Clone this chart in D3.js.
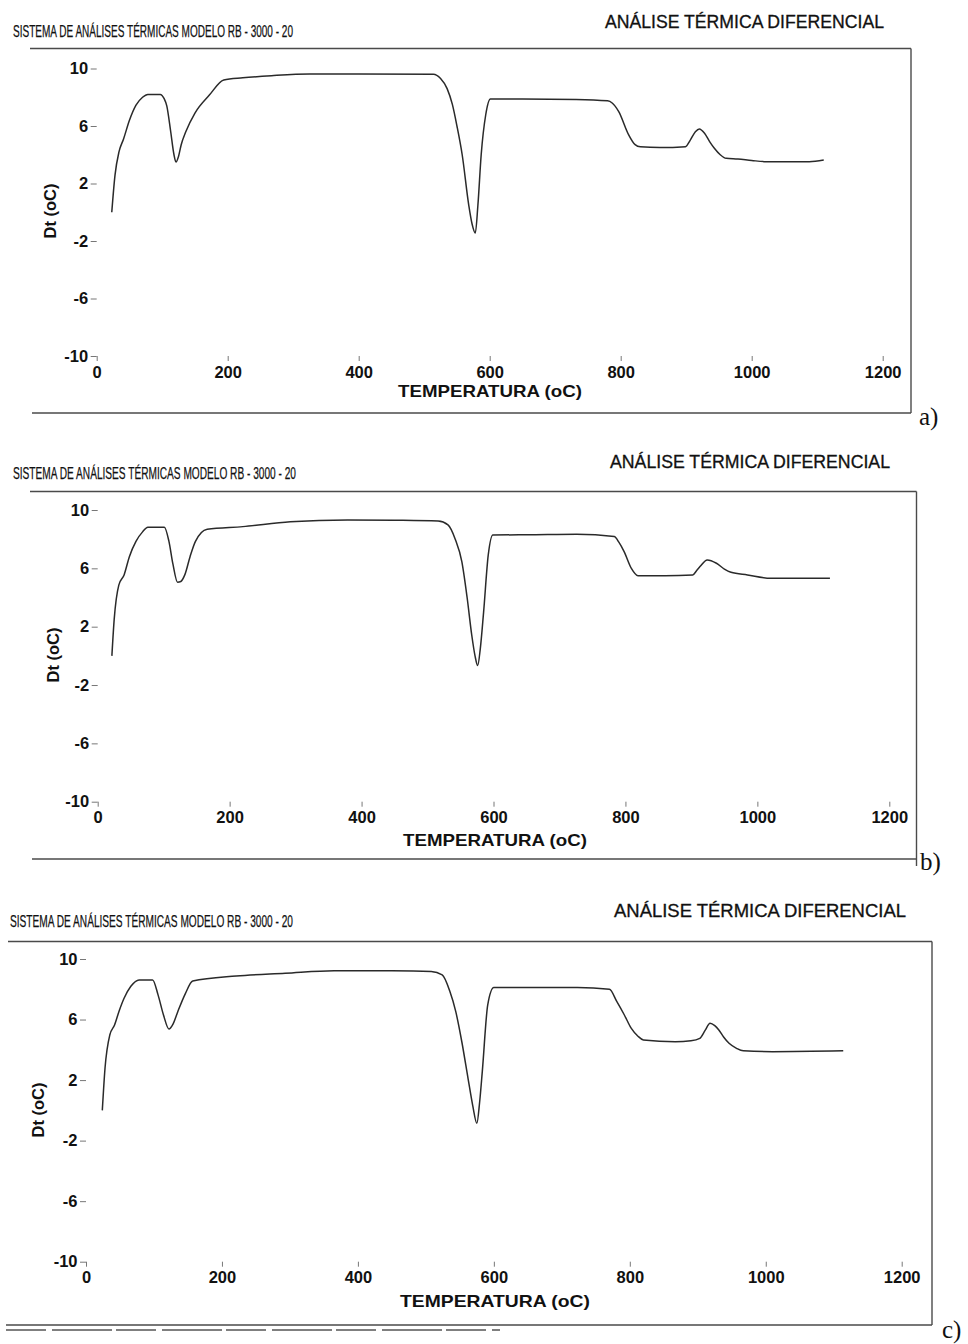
<!DOCTYPE html>
<html>
<head>
<meta charset="utf-8">
<script src="https://cdn.jsdelivr.net/npm/d3@7/dist/d3.min.js"></script>
<style>
  html, body { margin: 0; padding: 0; background: #fff; }
  svg { display: block; }
</style>
</head>
<body>
<script>
// ---------------- DATA ----------------
const xTicks = [0, 200, 400, 600, 800, 1000, 1200];
const yTicks = [10, 6, 2, -2, -6, -10];
const headerLeft = "SISTEMA DE ANÁLISES TÉRMICAS MODELO RB - 3000 - 20";
const headerRight = "ANÁLISE TÉRMICA DIFERENCIAL";
const xTitle = "TEMPERATURA (oC)";
const yTitle = "Dt (oC)";
const panelTags = ["a)", "b)", "c)"];

const tempA = [23, 28, 34, 41, 50, 60, 70, 78, 97, 103, 107, 113, 118, 121, 125, 129, 136, 150, 172, 194, 223, 267, 325, 400, 514, 525, 535, 543, 550, 558, 568, 573, 578, 582, 587, 594, 601, 650, 732, 780, 787, 797, 812, 822, 830, 860, 899, 906, 914, 920, 928, 936, 943, 952, 961, 979, 1000, 1023, 1088, 1110];
const dtA   = [0.0, 2.6, 4.2, 5.1, 6.4, 7.45, 8.0, 8.2, 8.2, 7.9, 7.4, 5.6, 4.0, 3.5, 3.9, 4.7, 5.6, 6.9, 8.15, 9.2, 9.35, 9.5, 9.62, 9.62, 9.6, 9.3, 8.6, 7.5, 6.0, 4.0, 0.5, -0.8, -1.45, 0.5, 4.0, 6.8, 7.88, 7.88, 7.85, 7.75, 7.6, 7.0, 5.4, 4.7, 4.55, 4.5, 4.56, 5.0, 5.6, 5.8, 5.5, 4.9, 4.45, 4.0, 3.75, 3.7, 3.6, 3.52, 3.52, 3.63];

const tempB = [21.5, 25, 32, 40, 48, 58, 68, 76, 101, 108, 114, 121, 126, 132, 140, 148, 166, 220, 292, 379, 450, 516, 531, 542, 552, 560, 567, 572, 576, 580, 585, 592, 599, 650, 726, 783, 790, 798, 809, 819, 860, 902, 908, 913, 924, 938, 950, 960, 985, 1021, 1110];
const dtB   = [0.0, 2.5, 4.85, 5.55, 6.8, 7.85, 8.5, 8.82, 8.82, 7.85, 6.3, 5.05, 5.1, 5.55, 6.8, 7.83, 8.68, 8.86, 9.2, 9.32, 9.3, 9.25, 8.98, 8.0, 6.46, 4.0, 1.43, 0.0, -0.67, 0.5, 3.0, 6.9, 8.29, 8.3, 8.34, 8.18, 7.8, 7.15, 6.0, 5.5, 5.5, 5.55, 5.85, 6.12, 6.58, 6.35, 5.95, 5.73, 5.55, 5.32, 5.32];

const tempC = [24, 28, 35, 42, 49, 56, 66, 78, 98, 106, 114, 122, 128, 135, 146, 157, 221, 293, 365, 450, 508, 524, 535, 544, 553, 562, 569, 575, 579, 583, 591, 600, 723, 770, 781, 792, 802, 812, 820, 867, 890, 903, 911, 918, 925, 931, 938, 946, 957, 967, 1010, 1114];
const dtC   = [0.0, 2.8, 4.98, 5.64, 6.6, 7.41, 8.2, 8.62, 8.62, 7.63, 6.3, 5.38, 5.7, 6.52, 7.7, 8.55, 8.88, 9.06, 9.23, 9.22, 9.17, 8.95, 7.9, 6.52, 4.5, 2.12, 0.3, -0.85, 0.5, 2.56, 6.97, 8.11, 8.11, 8.0, 7.18, 6.3, 5.43, 4.9, 4.65, 4.54, 4.6, 4.76, 5.3, 5.76, 5.6, 5.31, 4.85, 4.43, 4.1, 3.93, 3.88, 3.93];

// ---------------- LAYOUT ----------------
const W = 968, H = 1344;
const panels = [
  { temp: tempA, dt: dtA, tag: panelTags[0],
    x0: 96.7, x1: 882.7, yTop: 68.5, yBot: 356,
    boxTop: 48.5, boxLeft: 30, boxRight: 911, boxBottom: 413, bottomLeft: 32, rightExt: 413,
    hL: [13, 37, 280], hR: [605, 28, 279], yT: [50, 211], xT: [490, 397, 184], tagPos: [919, 425] },
  { temp: tempB, dt: dtB, tag: panelTags[1],
    x0: 97.7, x1: 889.3, yTop: 510, yBot: 801.7,
    boxTop: 491.5, boxLeft: 30, boxRight: 916.5, boxBottom: 859, bottomLeft: 32, rightExt: 866,
    hL: [13, 479, 283], hR: [610, 468, 280], yT: [53, 655], xT: [495, 846, 184], tagPos: [920, 870] },
  { temp: tempC, dt: dtC, tag: panelTags[2],
    x0: 86, x1: 901.7, yTop: 959, yBot: 1261.7,
    boxTop: 941.5, boxLeft: 8, boxRight: 932, boxBottom: 1325, bottomLeft: 6, rightExt: 1325,
    hL: [10, 927, 283], hR: [614, 917, 292], yT: [38, 1110], xT: [495, 1307, 190], tagPos: [942, 1338] }
];

const svg = d3.select("body").append("svg")
  .attr("width", W).attr("height", H)
  .attr("viewBox", `0 0 ${W} ${H}`);

svg.append("rect").attr("width", W).attr("height", H).attr("fill", "#fff");

const sans = "'Liberation Sans', Arial, Helvetica, sans-serif";
const narrow = "'Liberation Sans Narrow', 'Arial Narrow', 'Liberation Sans', Arial, sans-serif";

panels.forEach(p => {
  const g = svg.append("g");
  const x = d3.scaleLinear().domain([0, 1200]).range([p.x0, p.x1]);
  const y = d3.scaleLinear().domain([-10, 10]).range([p.yBot, p.yTop]);

  // headers
  g.append("text").attr("x", p.hL[0]).attr("y", p.hL[1])
    .attr("textLength", p.hL[2]).attr("lengthAdjust", "spacingAndGlyphs")
    .style("font-family", narrow).style("font-size", "16.5px").attr("fill", "#111")
    .attr("stroke", "#111").attr("stroke-width", 0.25)
    .text(headerLeft);
  g.append("text").attr("x", p.hR[0]).attr("y", p.hR[1])
    .attr("textLength", p.hR[2]).attr("lengthAdjust", "spacingAndGlyphs")
    .style("font-family", narrow).style("font-size", "17.5px").attr("fill", "#111")
    .attr("stroke", "#111").attr("stroke-width", 0.3)
    .text(headerRight);

  // frame (top, right, bottom)
  const frame = g.append("g").attr("fill", "none").attr("stroke", "#4a4a4a").attr("stroke-width", 1.4);
  frame.append("line").attr("x1", p.boxLeft).attr("x2", p.boxRight).attr("y1", p.boxTop).attr("y2", p.boxTop);
  frame.append("line").attr("x1", p.boxRight).attr("x2", p.boxRight).attr("y1", p.boxTop).attr("y2", p.rightExt);
  frame.append("line").attr("x1", p.bottomLeft).attr("x2", p.boxRight).attr("y1", p.boxBottom).attr("y2", p.boxBottom);

  // axes
  const fmt = d => String(d);
  const yAxis = d3.axisLeft(y).tickValues(yTicks).tickSize(6).tickPadding(2.5).tickFormat(fmt);
  const xAxis = d3.axisBottom(x).tickValues(xTicks).tickSize(5).tickPadding(5).tickFormat(fmt);

  const ya = g.append("g").attr("transform", `translate(${p.x0},0)`).call(yAxis);
  const xa = g.append("g").attr("transform", `translate(0,${p.yBot})`).call(xAxis);
  [ya, xa].forEach(a => {
    a.select(".domain").remove();
    a.selectAll(".tick line").attr("stroke", "#777").attr("stroke-width", 1);
    a.selectAll(".tick text")
      .style("font-family", sans).style("font-size", "16.5px").style("font-weight", "bold")
      .attr("fill", "#111");
  });

  // axis titles
  g.append("text")
    .attr("transform", `translate(${p.yT[0]},${p.yT[1]}) rotate(-90)`)
    .attr("text-anchor", "middle").attr("dy", "0.35em")
    .style("font-family", sans).style("font-size", "16.5px").style("font-weight", "bold")
    .attr("fill", "#111").text(yTitle);
  g.append("text").attr("x", p.xT[0]).attr("y", p.xT[1])
    .attr("text-anchor", "middle")
    .attr("textLength", p.xT[2]).attr("lengthAdjust", "spacingAndGlyphs")
    .style("font-family", sans).style("font-size", "16.5px").style("font-weight", "bold")
    .attr("fill", "#111").text(xTitle);

  // curve
  const pts = p.temp.map((t, i) => [t, p.dt[i]]);
  const line = d3.line().x(d => x(d[0])).y(d => y(d[1])).curve(d3.curveMonotoneX);
  g.append("path").datum(pts).attr("d", line)
    .attr("fill", "none").attr("stroke", "#2a2a2a").attr("stroke-width", 1.5)
    .attr("stroke-linejoin", "round");

  // panel tag
  g.append("text").attr("x", p.tagPos[0]).attr("y", p.tagPos[1])
    .style("font-family", "'Liberation Serif', 'Times New Roman', serif").style("font-size", "25px")
    .attr("fill", "#111").text(p.tag);
});

// scan artifact: second underline under panel c
svg.append("line").attr("x1", 6).attr("x2", 500).attr("y1", 1330).attr("y2", 1330)
  .attr("stroke", "#555").attr("stroke-width", 1.3).attr("stroke-dasharray", "40 6 60 4");
</script>
</body>
</html>
